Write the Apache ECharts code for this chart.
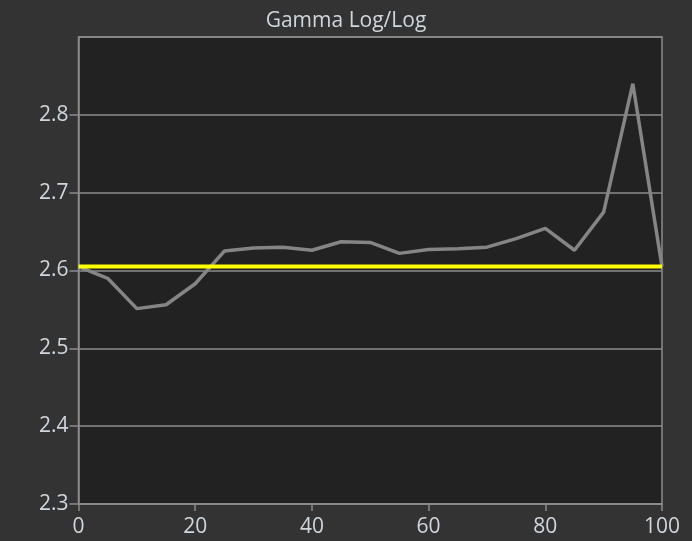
<!DOCTYPE html>
<html>
<head>
<meta charset="utf-8">
<script src="https://cdn.jsdelivr.net/npm/echarts@6/dist/echarts.min.js"></script>
<style>
  html, body { margin: 0; padding: 0; background: #333333; }
  #myChart { width: 692px; height: 541px; }
</style>
</head>
<body>
<div id="myChart"></div>
<script>
// measured gamma per stimulus level (%)
var levels = [0, 5, 10, 15, 20, 25, 30, 35, 40, 45, 50, 55, 60, 65, 70, 75, 80, 85, 90, 95, 100];
var gamma = [2.605, 2.590, 2.551, 2.556, 2.583, 2.625, 2.629, 2.630, 2.626, 2.637, 2.636,
             2.622, 2.627, 2.628, 2.630, 2.641, 2.654, 2.626, 2.675, 2.840, 2.605];
var targetGamma = 2.605;
var xTicks = [0, 20, 40, 60, 80, 100];

var labelColor = '#cfd6dd';
var lineGray = '#8c8c8c';

var myChart = echarts.init(document.getElementById('myChart'));
var option = {
  backgroundColor: '#333333',
  animation: false,
  title: {
    text: 'Gamma Log/Log',
    left: 'center',
    top: 6,
    textStyle: { color: labelColor, fontSize: 21, fontWeight: 'normal', fontFamily: 'Open Sans' }
  },
  grid: {
    left: 78.5, right: 30, top: 37, bottom: 37,
    show: true,
    backgroundColor: '#222222',
    borderColor: lineGray,
    borderWidth: 1.5
  },
  xAxis: {
    type: 'value',
    min: xTicks[0],
    max: xTicks[xTicks.length - 1],
    interval: 20,
    axisLine: { lineStyle: { color: lineGray, width: 1.5 } },
    axisTick: { show: true, length: 7, lineStyle: { color: lineGray, width: 1.5 } },
    splitLine: { show: false },
    axisLabel: { color: labelColor, fontSize: 21, fontFamily: 'Open Sans', margin: 13 }
  },
  yAxis: {
    type: 'value',
    min: 2.3,
    max: 2.9,
    interval: 0.1,
    axisLine: { show: true, lineStyle: { color: lineGray, width: 1.5 } },
    axisTick: { show: true, length: 9, lineStyle: { color: lineGray, width: 1.5 } },
    splitLine: { show: true, lineStyle: { color: lineGray, width: 1.5 } },
    axisLabel: {
      color: labelColor, fontSize: 21, fontFamily: 'Open Sans', margin: 10,
      showMaxLabel: false,
      formatter: function (v) { return v.toFixed(1); }
    }
  },
  series: [
    {
      type: 'line',
      data: levels.map(function (x, i) { return [x, gamma[i]]; }),
      symbol: 'none',
      lineStyle: { color: '#858585', width: 3.5 },
      z: 2
    },
    {
      type: 'line',
      data: [[xTicks[0], targetGamma], [xTicks[xTicks.length - 1], targetGamma]],
      symbol: 'none',
      lineStyle: { color: '#ffff00', width: 4 },
      z: 3
    }
  ]
};
myChart.setOption(option);
</script>
</body>
</html>
